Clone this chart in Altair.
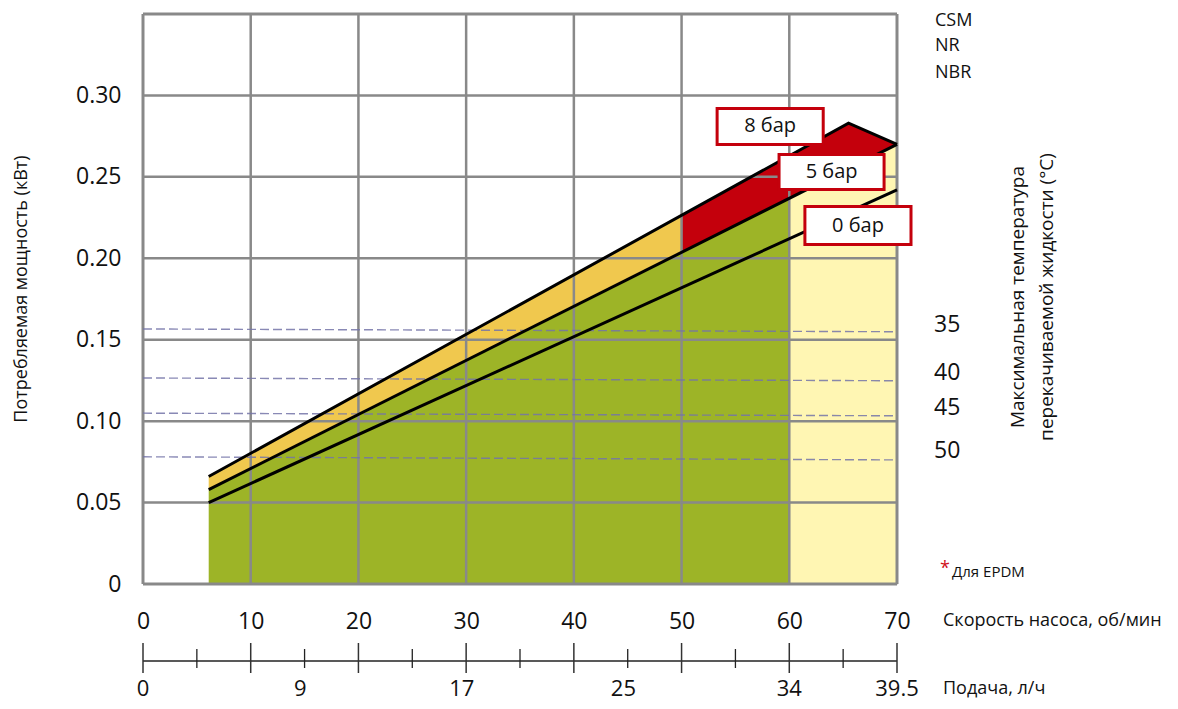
import altair as alt
import pandas as pd

# ---------------- data ----------------
speed_ticks = [0, 10, 20, 30, 40, 50, 60, 70]
power_ticks = [0, 0.05, 0.10, 0.15, 0.20, 0.25, 0.30]
grid_speed = [10, 20, 30, 40, 50, 60]
grid_power = [0.05, 0.10, 0.15, 0.20, 0.25, 0.30]
frame_speed = [0, 70]
frame_power = [0, 0.35]

# characteristic lines (speed, power)
bar8_speed = [6.1, 65.5, 70]
bar8_power = [0.066, 0.283, 0.270]
bar5_speed = [6.1, 70]
bar5_power = [0.058, 0.270]
bar0_speed = [6.1, 70]
bar0_power = [0.050, 0.242]

# filled regions
green_speed = [6.1, 60]
green_top = [0.058, 0.237]
ly_speed = [60, 70]
ly_top = [0.237, 0.270]
orange_speed = [6.1, 50]
orange_top = [0.066, 0.226]
orange_bottom = [0.058, 0.204]
red_speed = [50, 65.5, 70]
red_top = [0.226, 0.283, 0.270]
red_bottom = [0.204, 0.255, 0.270]

# temperature dashed lines
dash_left = [0.1566, 0.1265, 0.1049, 0.0781]
dash_right = [0.1549, 0.1248, 0.1033, 0.0762]
temp_labels = ["35", "40", "45", "50"]
temp_pos = [0.1589, 0.1294, 0.1082, 0.0815]

materials = ["CSM", "NR", "NBR"]
material_pos = [0.3455, 0.3301, 0.3135]

# pressure label boxes
pressure_labels = ["8 бар", "5 бар", "0 бар"]
box_x1 = [53.3, 59.05, 61.45]
box_x2 = [63.15, 68.8, 71.3]
box_y1 = [0.2699, 0.2422, 0.2084]
box_y2 = [0.2920, 0.2637, 0.2318]

# secondary (flow) axis
flow_labels = ["0", "9", "17", "25", "34", "39.5"]
flow_pos = [0, 14.6, 29.6, 44.6, 60, 70]
flow_major = [0, 10, 20, 30, 40, 50, 60, 70]
flow_minor = [5, 15, 25, 35, 45, 55, 65]

# ---------------- colours / fonts ----------------
GREEN = "#9db427"
LYELLOW = "#fff6b3"
ORANGE = "#f0c84e"
RED = "#c4000c"
GRID = "#898989"
FONT = "Open Sans"

W, H = 754, 570
xs = alt.Scale(domain=[0, 70], nice=False, zero=False)
ys = alt.Scale(domain=[0, 0.35], nice=False, zero=False)


def X(field="s"):
    return alt.X(f"{field}:Q", scale=xs, title=None)


def Y(field="p"):
    return alt.Y(f"{field}:Q", scale=ys, title=None)


green_df = pd.DataFrame({"s": green_speed, "p": green_top, "b": [0] * len(green_speed)})
ly_df = pd.DataFrame({"s": ly_speed, "p": ly_top, "b": [0] * len(ly_speed)})
orange_df = pd.DataFrame({"s": orange_speed, "p": orange_top, "b": orange_bottom})
red_df = pd.DataFrame({"s": red_speed, "p": red_top, "b": red_bottom})

green = alt.Chart(green_df).mark_area(color=GREEN, opacity=1).encode(
    x=alt.X("s:Q", scale=xs, title=None,
            axis=alt.Axis(values=speed_ticks, format="d")),
    y=alt.Y("p:Q", scale=ys, title=None,
            axis=alt.Axis(values=power_ticks,
                          labelExpr="datum.value == 0 ? '0' : format(datum.value, '.2f')")),
    y2="b:Q",
)
lyellow = alt.Chart(ly_df).mark_area(color=LYELLOW, opacity=1).encode(x=X(), y=Y(), y2="b:Q")
orange = alt.Chart(orange_df).mark_area(color=ORANGE, opacity=1).encode(x=X(), y=Y(), y2="b:Q")
red = alt.Chart(red_df).mark_area(color=RED, opacity=1).encode(x=X(), y=Y(), y2="b:Q")

vgrid = alt.Chart(pd.DataFrame({"s": grid_speed})).mark_rule(color=GRID, strokeWidth=2.5).encode(x=X())
hgrid = alt.Chart(pd.DataFrame({"p": grid_power})).mark_rule(color=GRID, strokeWidth=2.5).encode(y=Y())
vframe = alt.Chart(pd.DataFrame({"s": frame_speed})).mark_rule(color=GRID, strokeWidth=3).encode(x=X())
hframe = alt.Chart(pd.DataFrame({"p": frame_power})).mark_rule(color=GRID, strokeWidth=3).encode(y=Y())

dash_df = pd.DataFrame({"s1": [0] * 4, "s2": [70] * 4, "p1": dash_left, "p2": dash_right})
dashes = alt.Chart(dash_df).mark_rule(color="#7474a8", strokeWidth=1.4, strokeDash=[9, 4],
                                      opacity=0.85).encode(
    x=X("s1"), x2="s2:Q", y=Y("p1"), y2="p2:Q")

lines = []
for sp, pw in [(bar8_speed, bar8_power), (bar5_speed, bar5_power), (bar0_speed, bar0_power)]:
    lines.append(alt.Chart(pd.DataFrame({"s": sp, "p": pw})).mark_line(
        color="black", strokeWidth=3).encode(x=X(), y=Y()))

box_df = pd.DataFrame({"x1": box_x1, "x2": box_x2, "y1": box_y1, "y2": box_y2,
                       "label": pressure_labels})
box_df["cx"] = (box_df["x1"] + box_df["x2"]) / 2
box_df["cy"] = (box_df["y1"] + box_df["y2"]) / 2
boxes = alt.Chart(box_df).mark_rect(fill="white", stroke=RED, strokeWidth=3).encode(
    x=X("x1"), x2="x2:Q", y=Y("y1"), y2="y2:Q")
box_text = alt.Chart(box_df).mark_text(font=FONT, fontSize=20, color="#111",
                                       align="center", baseline="middle").encode(
    x=X("cx"), y=Y("cy"), text="label:N")

temp_text = alt.Chart(pd.DataFrame({"t": temp_labels, "p": temp_pos})).mark_text(
    font=FONT, fontSize=23, color="#111", align="left", baseline="middle").encode(
    x=alt.value(791), y=Y(), text="t:N")
mat_text = alt.Chart(pd.DataFrame({"t": materials, "p": material_pos})).mark_text(
    font=FONT, fontSize=18, color="#111", align="left", baseline="middle").encode(
    x=alt.value(792), y=Y(), text="t:N")

# secondary flow axis
flow_line = alt.Chart(pd.DataFrame({"s": [0], "s2": [70]})).mark_rule(
    color="#222", strokeWidth=1.3).encode(x=X(), x2="s2:Q", y=alt.value(647))
flow_major_t = alt.Chart(pd.DataFrame({"s": flow_major})).mark_rule(
    color="#333", strokeWidth=1.5).encode(x=X(), y=alt.value(629), y2=alt.value(659))
flow_minor_t = alt.Chart(pd.DataFrame({"s": flow_minor})).mark_rule(
    color="#222", strokeWidth=1.3).encode(x=X(), y=alt.value(635), y2=alt.value(654))
flow_text = alt.Chart(pd.DataFrame({"t": flow_labels, "s": flow_pos})).mark_text(
    font=FONT, fontSize=22, color="#111", align="center", baseline="middle").encode(
    x=X(), y=alt.value(675), text="t:N")

# titles and notes
ann_df = pd.DataFrame({
    "t": ["Скорость насоса, об/мин", "Подача, л/ч"],
    "x": [800, 800], "y": [607, 675]})
ann = alt.Chart(ann_df).mark_text(font=FONT, fontSize=18, color="#111", align="left",
                                  baseline="middle").encode(
    x=alt.X("x:Q", scale=None, axis=None), y=alt.Y("y:Q", scale=None, axis=None), text="t:N")

ytitle = alt.Chart(pd.DataFrame({"t": ["Потребляемая мощность (кВт)"]})).mark_text(
    font=FONT, fontSize=18, color="#111", angle=270, align="center", baseline="middle").encode(
    x=alt.value(-121), y=alt.value(275), text="t:N")
rtitle1 = alt.Chart(pd.DataFrame({"t": ["Максимальная температура"]})).mark_text(
    font=FONT, fontSize=19, color="#111", angle=270, align="center", baseline="middle").encode(
    x=alt.value(875), y=alt.value(283), text="t:N")
rtitle2 = alt.Chart(pd.DataFrame({"t": ["перекачиваемой жидкости (°C)"]})).mark_text(
    font=FONT, fontSize=19, color="#111", angle=270, align="center", baseline="middle").encode(
    x=alt.value(904), y=alt.value(283), text="t:N")

star = alt.Chart(pd.DataFrame({"t": ["*"]})).mark_text(
    font=FONT, fontSize=18, color="#d0101a", align="left", baseline="middle").encode(
    x=alt.value(797), y=alt.value(555), text="t:N")
epdm = alt.Chart(pd.DataFrame({"t": ["Для EPDM"]})).mark_text(
    font=FONT, fontSize=15, color="#111", align="left", baseline="middle").encode(
    x=alt.value(809), y=alt.value(558), text="t:N")

chart = alt.layer(
    green, lyellow, orange, red,
    vgrid, hgrid, vframe, hframe,
    dashes, *lines,
    boxes, box_text,
    temp_text, mat_text,
    flow_line, flow_major_t, flow_minor_t, flow_text,
    ann, ytitle, rtitle1, rtitle2, star, epdm,
).properties(
    width=W, height=H,
    autosize=alt.AutoSizeParams(type="none"),
    padding={"left": 135, "top": 6, "right": 273, "bottom": 117},
).configure_view(stroke=None).configure(background="white").configure_axis(
    grid=False, ticks=False, domain=False, labelFontSize=23, labelFont=FONT,
    labelColor="#111", labelFlush=False
).configure_axisX(labelPadding=26).configure_axisY(labelPadding=22)

chart.save("out.html", embed_options={"renderer": "svg", "actions": False})
